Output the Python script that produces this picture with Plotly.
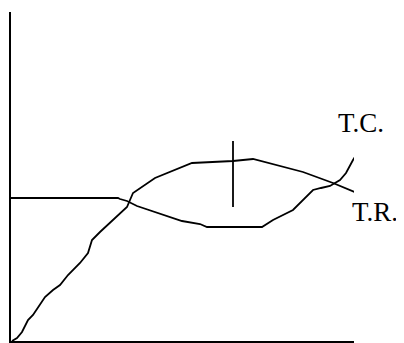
import plotly.graph_objects as go

# Total revenue: starts at the origin, rises, bends over and falls off
tr_q = [1, 6, 11, 17, 22, 29, 34, 42, 49, 57, 69, 77, 81, 89, 104, 116, 122,
        129, 144, 181, 222, 242, 292, 322, 346, 353]
tr_v = [0, 3, 9, 21, 26, 36, 44, 51, 56, 66, 78, 88, 101, 109, 123, 134, 148,
        153, 163, 178, 180, 182, 169, 158, 148, 148]

# Total cost: flat fixed cost, dips, flat bottom, then climbs steeply
tc_q = [0, 107, 109, 116, 126, 132, 137, 156, 171, 189, 196, 251, 262, 282,
        289, 302, 310, 319, 329, 335, 342, 347]
tc_v = [143, 143, 142, 140, 135, 133, 131, 125, 120, 117, 114, 114, 121, 131,
        138, 151, 153, 155, 161, 168, 181, 189]

# marker of the profit-maximising output
peak_q = [222, 222]
peak_v = [134, 200]

labels = ["T.C.", "T.R."]
label_q = [350, 364]
label_v = [218.5, 129.5]

Q_MAX, V_MAX = 343, 329
LINE = dict(color="black", width=1.8)
FONT = "Liberation Serif, Times New Roman, serif"


def build_figure():
    fig = go.Figure()
    fig.add_trace(go.Scatter(x=tr_q, y=tr_v, mode="lines", line=LINE,
                             showlegend=False, cliponaxis=False))
    fig.add_trace(go.Scatter(x=tc_q, y=tc_v, mode="lines", line=LINE,
                             showlegend=False, cliponaxis=False))
    fig.add_trace(go.Scatter(x=peak_q, y=peak_v, mode="lines", line=LINE,
                             showlegend=False, cliponaxis=False))

    # labels sit right of the plot area, so place them in paper units
    for txt, q, v in zip(labels, label_q, label_v):
        fig.add_annotation(x=q / Q_MAX, y=v / V_MAX, xref="paper", yref="paper",
                           xanchor="center", yanchor="middle",
                           text=txt, showarrow=False,
                           font=dict(family=FONT, size=27, color="black"))

    axis = dict(showline=True, linewidth=2, linecolor="black", showgrid=False,
                zeroline=False, showticklabels=False, ticks="")
    fig.update_xaxes(range=[0, Q_MAX], **axis)
    fig.update_yaxes(range=[0, V_MAX], **axis)

    # page body adds an 8px offset; extra width on the right keeps T.R. whole
    fig.update_layout(
        width=404, height=335,
        margin=dict(l=3, r=58, t=4, b=2),
        plot_bgcolor="white", paper_bgcolor="white",
    )
    return fig


fig = build_figure()
fig.write_html("out.html")
